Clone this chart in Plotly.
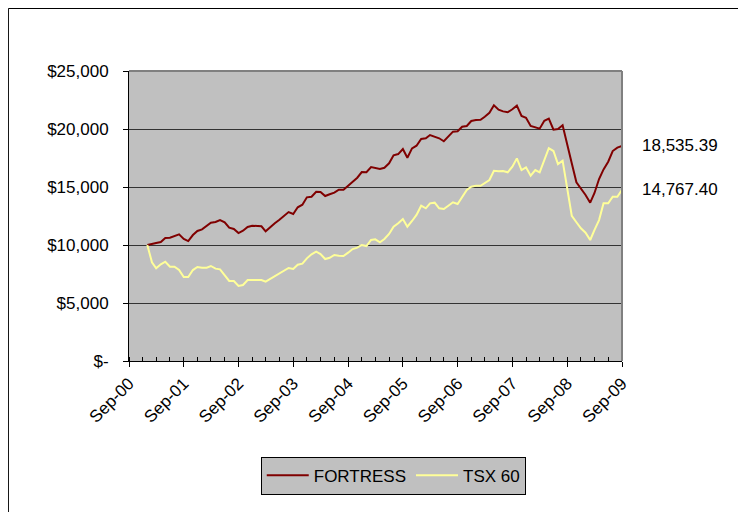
import pandas as pd
import plotly.graph_objects as go

# Monthly values, Jan-2001 .. Sep-2009
dates = pd.date_range("2001-01-01", "2009-09-01", freq="MS")

fortress = [
    10000, 10120, 10170, 10260, 10600, 10630, 10750, 10920, 10520, 10340, 10860, 11210,
    11350, 11640, 11920, 11980, 12150, 11960, 11490, 11380, 11030, 11230, 11550, 11660,
    11610, 11610, 11180, 11490, 11870, 12180, 12520, 12840, 12670, 13250, 13470, 14110,
    14160, 14590, 14570, 14220, 14370, 14510, 14770, 14770, 15110, 15490, 15800, 16290,
    16270, 16720, 16660, 16550, 16660, 17040, 17730, 17840, 18270, 17520, 18330, 18560,
    19140, 19200, 19480, 19370, 19200, 18940, 19340, 19770, 19800, 20200, 20260, 20690,
    20770, 20800, 21060, 21400, 22040, 21660, 21520, 21440, 21700, 22010, 21120, 20970,
    20260, 20170, 20030, 20710, 20890, 19940, 20000, 20320, 18770, 17040, 15400, 14910,
    14310, 13650, 14460, 15690, 16520, 17180, 18100, 18390, 18535.39,
]

tsx60 = [
    10000, 8510, 7990, 8340, 8560, 8130, 8130, 7840, 7240, 7240, 7840, 8100,
    8040, 8040, 8190, 7960, 7900, 7410, 6900, 6900, 6470, 6550, 6980, 6980,
    6980, 6980, 6840, 7070, 7330, 7530, 7780, 8020, 7930, 8300, 8390, 8850,
    9200, 9420, 9220, 8790, 8900, 9140, 9080, 9050, 9340, 9650, 9770, 10000,
    9910, 10430, 10490, 10230, 10520, 10950, 11580, 11870, 12240, 11580, 12070, 12590,
    13390, 13160, 13590, 13650, 13160, 13100, 13390, 13680, 13530, 14160, 14740, 15020,
    15110, 15110, 15320, 15600, 16400, 16350, 16380, 16270, 16750, 17470, 16460, 16700,
    15970, 16460, 16270, 17330, 18340, 18100, 16980, 17270, 15020, 12520, 11960, 11440,
    11060, 10430, 11290, 12150, 13590, 13590, 14160, 14160, 14767.40,
]

series_names = ["FORTRESS", "TSX 60"]
y_tickvals = [0, 5000, 10000, 15000, 20000, 25000]
y_ticktext = ["$-", "$5,000", "$10,000", "$15,000", "$20,000", "$25,000"]

FONT = dict(family="Arial, Liberation Sans, sans-serif", size=17, color="black")

fig = go.Figure()
fig.add_trace(go.Scatter(x=dates, y=fortress, mode="lines", name=series_names[0],
                         line=dict(color="#800000", width=2)))
fig.add_trace(go.Scatter(x=dates, y=tsx60, mode="lines", name=series_names[1],
                         line=dict(color="#FFFF99", width=2)))

for vals in (fortress, tsx60):
    fig.add_annotation(x=1.036, xref="paper", y=vals[-1], yref="y",
                       text=f"{vals[-1]:,.2f}", showarrow=False,
                       xanchor="left", yanchor="middle", font=FONT)

fig.update_layout(
    width=738, height=504,
    margin=dict(l=121, r=124, t=63, b=151),
    paper_bgcolor="white", plot_bgcolor="#C0C0C0",
    font=FONT,
    showlegend=True,
    legend=dict(orientation="h", x=0.536, xanchor="center", y=-0.33, yanchor="top",
                itemwidth=42,
                bgcolor="#C0C0C0", bordercolor="black", borderwidth=1, font=FONT),
    xaxis=dict(
        type="date", range=["2000-09-01", "2009-09-01"],
        tick0="2000-09-01", dtick="M12", tickformat="%b-%y", tickangle=-45,
        ticks="outside", ticklen=5, tickcolor="black",
        showline=True, linecolor="black", linewidth=1,
        showgrid=False, zeroline=False,
        minor=dict(ticks="inside", ticklen=4, tickcolor="black", dtick="M3",
                   tick0="2000-09-01", showgrid=False),
        tickfont=FONT,
    ),
    yaxis=dict(
        range=[0, 25000], tickvals=y_tickvals, ticktext=y_ticktext,
        ticks="outside", ticklen=5, tickcolor="black",
        showline=True, linecolor="black", linewidth=1,
        showgrid=True, gridcolor="#333333", gridwidth=1, zeroline=False,
        ticklabelstandoff=11, tickfont=FONT,
    ),
    shapes=[
        dict(type="line", xref="paper", yref="paper", x0=0, x1=1, y0=1, y1=1,
             line=dict(color="#808080", width=2)),
        dict(type="line", xref="paper", yref="paper", x0=1, x1=1, y0=0, y1=1,
             line=dict(color="#808080", width=2)),
        dict(type="rect", xref="paper", yref="paper",
             x0=-0.2446, x1=1.240, y0=-0.54, y1=1.2155,
             line=dict(color="black", width=1), fillcolor="rgba(0,0,0,0)"),
    ],
)

fig.write_html("out.html")
